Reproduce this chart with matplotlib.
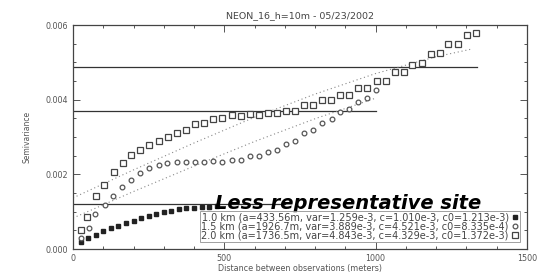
import matplotlib
matplotlib.use("Agg")
import matplotlib.pyplot as plt
import numpy as np

# lag distance (m) and semivariance (x1e-3)
h_10 = [27, 50, 75, 100, 125, 150, 175, 200, 225, 250, 275, 300, 325, 350, 375, 400, 425, 450, 475]
g_10 = [0.20, 0.30, 0.38, 0.47, 0.55, 0.62, 0.69, 0.75, 0.82, 0.88, 0.94, 0.98, 1.02, 1.06, 1.09,
        1.11, 1.12, 1.13, 1.14]

h_15 = [27, 52, 73, 105, 133, 163, 192, 223, 252, 283, 312, 343, 373, 403, 433, 463, 493, 524, 554,
        585, 614, 645, 675, 704, 733, 763, 794, 824, 855, 884, 913, 942, 972, 1003]
g_15 = [0.30, 0.57, 0.93, 1.19, 1.43, 1.65, 1.85, 2.04, 2.16, 2.26, 2.30, 2.34, 2.34, 2.34, 2.32,
        2.35, 2.33, 2.39, 2.39, 2.48, 2.48, 2.60, 2.64, 2.81, 2.90, 3.12, 3.19, 3.37, 3.49, 3.66,
        3.75, 3.93, 4.05, 4.25]

h_20 = [27, 45, 77, 104, 135, 164, 193, 221, 251, 284, 314, 343, 372, 403, 433, 463, 494, 524, 555,
        585, 614, 645, 675, 704, 733, 764, 794, 824, 852, 884, 912, 942, 972, 1005, 1034, 1064, 1093,
        1122, 1152, 1182, 1212, 1240, 1273, 1303, 1331]
g_20 = [0.52, 0.87, 1.43, 1.72, 2.07, 2.31, 2.51, 2.66, 2.78, 2.89, 2.99, 3.11, 3.18, 3.34, 3.38,
        3.49, 3.51, 3.60, 3.57, 3.62, 3.60, 3.64, 3.65, 3.70, 3.70, 3.85, 3.85, 3.98, 3.98, 4.13,
        4.13, 4.31, 4.31, 4.51, 4.51, 4.73, 4.73, 4.94, 4.99, 5.23, 5.25, 5.50, 5.50, 5.74, 5.79]

# fitted model curves (dotted), read at a few distances
fit_h_15 = [0, 200, 400, 600, 800, 1000]
fit_g_15 = [0.83, 1.54, 2.22, 2.88, 3.49, 4.04]
fit_h_20 = [0, 200, 400, 600, 800, 1000, 1200, 1320]
fit_g_20 = [1.37, 2.12, 2.84, 3.53, 4.15, 4.70, 5.15, 5.36]

# sample variance lines: (level x1e-3, max distance)
var_levels = [1.21, 3.70, 4.88]
var_ends = [700, 1000, 1335]

labels = [
    "1.0 km (a=433.56m, var=1.259e-3, c=1.010e-3, c0=1.213e-3)",
    "1.5 km (a=1926.7m, var=3.889e-3, c=4.521e-3, c0=8.335e-4)",
    "2.0 km (a=1736.5m, var=4.843e-3, c=4.329e-3, c0=1.372e-3)",
]

sc = 1e-3
gray = "#555555"

fig = plt.figure(figsize=(5.37, 2.75), dpi=100)
ax = fig.add_axes([0.136, 0.0945, 0.845, 0.8145])

for lev, end in zip(var_levels, var_ends):
    ax.plot([0, end], [lev * sc, lev * sc], color="#333333", lw=0.9, zorder=2)

ax.plot(fit_h_15, np.array(fit_g_15) * sc, color="#888888", lw=0.8, ls=(0, (1, 2.5)), zorder=2)
ax.plot(fit_h_20, np.array(fit_g_20) * sc, color="#888888", lw=0.8, ls=(0, (1, 2.5)), zorder=2)

p1, = ax.plot(h_10, np.array(g_10) * sc, ls="none", marker="s", ms=3, color="#222222", zorder=3)
p2, = ax.plot(h_15, np.array(g_15) * sc, ls="none", marker="o", ms=3.4, mfc="white",
              mec="#555555", mew=0.9, zorder=3)
p3, = ax.plot(h_20, np.array(g_20) * sc, ls="none", marker="s", ms=4.4, mfc="white",
              mec="#444444", mew=0.9, zorder=3)

leg = ax.legend([p1, p2, p3], labels, loc="lower right", bbox_to_anchor=(0.985, 0.03),
                markerfirst=False, fontsize=7.0, frameon=True, fancybox=False,
                handlelength=0.7, handletextpad=0.3, borderpad=0.15, labelspacing=-0.1,
                borderaxespad=0)
leg.get_frame().set_edgecolor("#888888")
leg.get_frame().set_linewidth(0.7)
for t in leg.get_texts():
    t.set_color("#444444")

ax.set_xlim(0, 1500)
ax.set_ylim(0, 0.006)
ax.set_xticks([0, 500, 1000, 1500])
ax.set_xticks(np.arange(0, 1501, 100), minor=True)
ax.set_yticks([0, 0.002, 0.004, 0.006])
ax.set_yticks(np.arange(0, 0.00601, 0.0005), minor=True)
ax.set_xticklabels(["0", "500", "1000", "1500"])
ax.set_yticklabels(["0.000", "0.002", "0.004", "0.006"])
ax.tick_params(which="both", direction="in", top=True, right=True, colors=gray,
               labelsize=5.8, width=0.7)
ax.tick_params(which="major", length=5)
ax.tick_params(which="minor", length=2.5)
for s in ax.spines.values():
    s.set_color("#444444")
    s.set_linewidth(0.9)

ax.set_title("NEON_16_h=10m - 05/23/2002", fontsize=6.8, color="#444444", pad=5)
ax.set_xlabel("Distance between observations (meters)", fontsize=5.8, color=gray, labelpad=1)
ax.set_ylabel("Semivariance", fontsize=5.5, color=gray, labelpad=10)

ax.text(0.312, 0.205, "Less representative site", transform=ax.transAxes,
        fontsize=14, fontweight="bold", fontstyle="italic", color="black",
        family="DejaVu Sans", va="center", ha="left", zorder=5)

fig.savefig("out.png", dpi=100)
